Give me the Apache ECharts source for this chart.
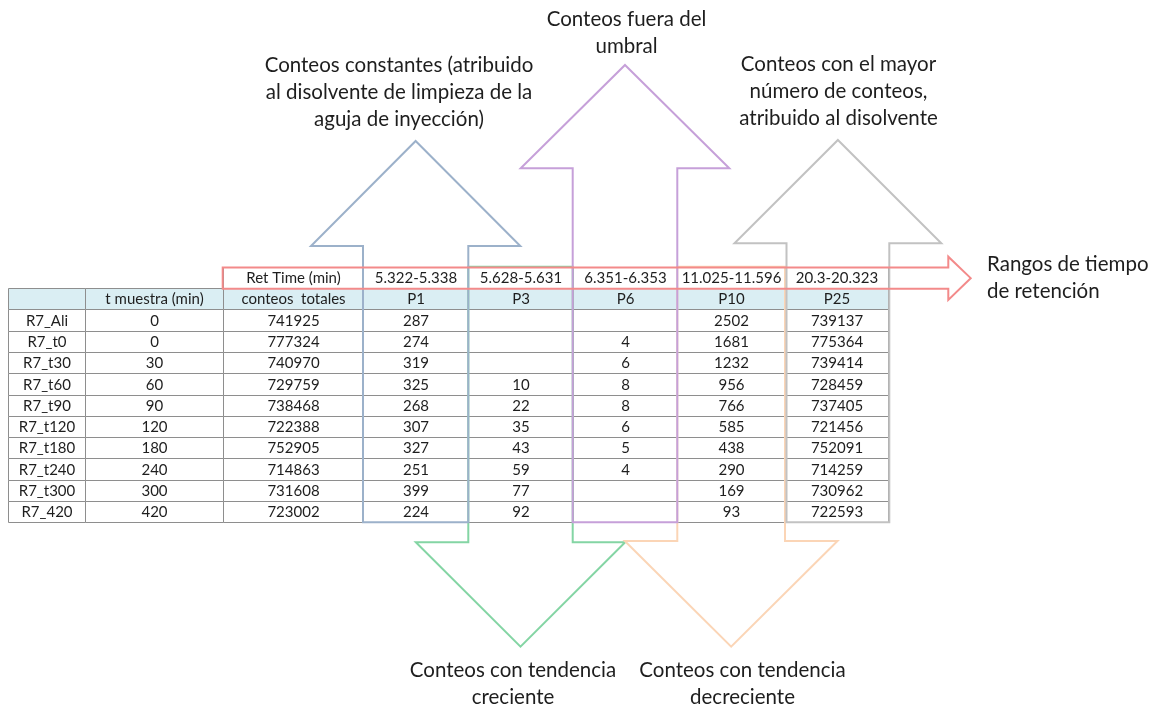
<!DOCTYPE html>
<html>
<head>
<meta charset="utf-8">
<script src="https://cdn.jsdelivr.net/npm/echarts@6/dist/echarts.min.js"></script>
<style>
html,body{margin:0;padding:0;background:#fff;}
#chart{width:1149px;height:706px;}
</style>
</head>
<body>
<div id="chart"></div>
<script>
// ---------------- DATA ----------------
const samples = ['R7_Ali','R7_t0','R7_t30','R7_t60','R7_t90','R7_t120','R7_t180','R7_t240','R7_t300','R7_420'];
const tMuestra = [0,0,30,60,90,120,180,240,300,420];
const conteosTotales = [741925,777324,740970,729759,738468,722388,752905,714863,731608,723002];
const peakNames = ['P1','P3','P6','P10','P25'];
const retTimes = ['5.322-5.338','5.628-5.631','6.351-6.353','11.025-11.596','20.3-20.323'];
const P1 = [287,274,319,325,268,307,327,251,399,224];
const P3 = [null,null,null,10,22,35,43,59,77,92];
const P6 = [null,4,6,8,8,6,5,4,null,null];
const P10 = [2502,1681,1232,956,766,585,438,290,169,93];
const P25 = [739137,775364,739414,728459,737405,721456,752091,714259,730962,722593];
const headerLabels = ['', 't muestra (min)', 'conteos  totales'];
const retTimeLabel = 'Ret Time (min)';
const noteConstantes = 'Conteos constantes (atribuido\nal disolvente de limpieza de la\naguja de inyección)';
const noteUmbral = 'Conteos fuera del\numbral';
const noteMayor = 'Conteos con el mayor\nnúmero de conteos,\natribuido al disolvente';
const noteRangos = 'Rangos de tiempo\nde retención';
const noteCreciente = 'Conteos con tendencia\ncreciente';
const noteDecreciente = 'Conteos con tendencia\ndecreciente';

// ---------------- LAYOUT ----------------
const W = 1149, H = 706;
const colEdges = [8, 85.3, 222.7, 363, 468.3, 572.7, 677.3, 785, 887.5];
const tableTop = 266.7, rowH = 21.3;
const rowTop = r => tableTop + r * rowH;
const tableBottom = rowTop(12);
const FONT = 'Lato, "Open Sans", sans-serif';
const textColor = '#1e1e1e';
const borderColor = '#8e8e8e';
const headerFill = '#daeef3';

// build cells
const peakSeries = [P1, P3, P6, P10, P25];
const cells = [];
cells.push({c:2, r:0, t:retTimeLabel, fill:'#fff'});
retTimes.forEach((rt,i)=>cells.push({c:3+i, r:0, t:rt, fill:'#fff'}));
headerLabels.forEach((h,i)=>cells.push({c:i, r:1, t:h, fill:headerFill}));
peakNames.forEach((p,i)=>cells.push({c:3+i, r:1, t:p, fill:headerFill}));
samples.forEach((s,k)=>{
  const r = 2 + k;
  cells.push({c:0, r, t:s, fill:'#fff'});
  cells.push({c:1, r, t:String(tMuestra[k]), fill:'#fff'});
  cells.push({c:2, r, t:String(conteosTotales[k]), fill:'#fff'});
  peakSeries.forEach((ps,i)=>cells.push({c:3+i, r, t: ps[k]==null ? '' : String(ps[k]), fill:'#fff'}));
});

const upArrows = [
  {col:3, half:52, base:246, tip:141, color:'#9cb1ca'},
  {col:5, half:52, base:168.3, tip:65, color:'#c6a0d9'},
  {col:7, half:52, base:243.3, tip:140, color:'#c2c2c2', x0:786.5, x1:889.3}
];
const downArrows = [
  {col:4, half:52.5, base:542.3, tip:646.7, color:'#84d5a4'},
  {col:6, half:52.5, base:541, tip:646.7, color:'#fbd5b6'}
];
const rightArrow = {x0:colEdges[2], top:267.5, bottom:288.8, base:948.3, headTop:256.7, headBottom:300, tip:970.7, color:'#f38a8a'};

const notes = [
  {t:noteConstantes, x:399, y:92, align:'center'},
  {t:noteUmbral, x:626.5, y:32.5, align:'center'},
  {t:noteMayor, x:838.5, y:91, align:'center'},
  {t:noteRangos, x:987, y:277.5, align:'left'},
  {t:noteCreciente, x:513, y:683.5, align:'center'},
  {t:noteDecreciente, x:742.5, y:683.5, align:'center'}
];

// ---------------- CHART ----------------
const chart = echarts.init(document.getElementById('chart'), null, {renderer:'canvas'});

function tableItem(params, api){
  const cell = cells[params.dataIndex];
  const p0 = api.coord([colEdges[cell.c], rowTop(cell.r)]);
  const p1 = api.coord([colEdges[cell.c+1], rowTop(cell.r+1)]);
  const x = Math.round(p0[0]) + 0.5, y = Math.round(p0[1]) + 0.5;
  const w = Math.round(p1[0]) - Math.round(p0[0]);
  const h = Math.round(p1[1]) - Math.round(p0[1]);
  return {
    type:'group',
    children:[
      {type:'rect', shape:{x, y, width:w, height:h}, style:{fill:cell.fill, stroke:borderColor, lineWidth:1}},
      {type:'text', style:{text:cell.t, x:x + w/2, y:y + h/2 + 0.5, align:'center', verticalAlign:'middle',
        fontSize:15, fontFamily:FONT, fill:textColor}}
    ]
  };
}

function upArrowItem(params, api){
  const a = upArrows[params.dataIndex];
  const xl = a.x0 != null ? a.x0 : colEdges[a.col];
  const xr = a.x1 != null ? a.x1 : colEdges[a.col+1];
  const xm = (xl + xr) / 2;
  const pts = [[xm, a.tip],[xm + (xr-xl)/2 + a.half, a.base],[xr, a.base],[xr, tableBottom],
               [xl, tableBottom],[xl, a.base],[xm - (xr-xl)/2 - a.half, a.base]].map(p=>api.coord(p));
  return {type:'polygon', shape:{points:pts}, style:{fill:null, stroke:a.color, lineWidth:2, lineJoin:'miter'}};
}

function downArrowItem(params, api){
  const a = downArrows[params.dataIndex];
  const xl = colEdges[a.col], xr = colEdges[a.col+1];
  const xm = (xl + xr) / 2;
  const pts = [[xl, tableTop],[xr, tableTop],[xr, a.base],[xm + (xr-xl)/2 + a.half, a.base],[xm, a.tip],
               [xm - (xr-xl)/2 - a.half, a.base],[xl, a.base]].map(p=>api.coord(p));
  return {type:'polygon', shape:{points:pts}, style:{fill:null, stroke:a.color, lineWidth:2, lineJoin:'miter'}};
}

function rightArrowItem(params, api){
  const a = rightArrow;
  const mid = (a.top + a.bottom)/2;
  const pts = [[a.x0, a.top],[a.base, a.top],[a.base, a.headTop],[a.tip, mid],[a.base, a.headBottom],
               [a.base, a.bottom],[a.x0, a.bottom]].map(p=>api.coord(p));
  return {type:'polygon', shape:{points:pts}, style:{fill:null, stroke:a.color, lineWidth:2, lineJoin:'miter'}};
}

function noteItem(params, api){
  const n = notes[params.dataIndex];
  const p = api.coord([n.x, n.y]);
  return {type:'text', style:{text:n.t, x:p[0], y:p[1], align:n.align, verticalAlign:'middle',
    fontSize:20.5, lineHeight:27, fontFamily:FONT, fill:textColor}};
}

chart.setOption({
  animation:false,
  backgroundColor:'#fff',
  grid:{left:0, right:0, top:0, bottom:0},
  xAxis:{type:'value', min:0, max:W, show:false},
  yAxis:{type:'value', min:0, max:H, inverse:true, show:false},
  series:[
    {type:'custom', name:'tabla', renderItem:tableItem, clip:false, silent:true,
      data:cells.map(c=>[colEdges[c.c], rowTop(c.r)]), z:1},
    {type:'custom', name:'flechas abajo', renderItem:downArrowItem, clip:false, silent:true,
      data:downArrows.map(a=>[colEdges[a.col], a.tip]), z:2},
    {type:'custom', name:'flechas arriba', renderItem:upArrowItem, clip:false, silent:true,
      data:upArrows.map(a=>[colEdges[a.col], a.tip]), z:3},
    {type:'custom', name:'flecha derecha', renderItem:rightArrowItem, clip:false, silent:true,
      data:[[rightArrow.x0, rightArrow.top]], z:4},
    {type:'custom', name:'notas', renderItem:noteItem, clip:false, silent:true,
      data:notes.map(n=>[n.x, n.y]), z:5}
  ]
});
</script>
</body>
</html>
